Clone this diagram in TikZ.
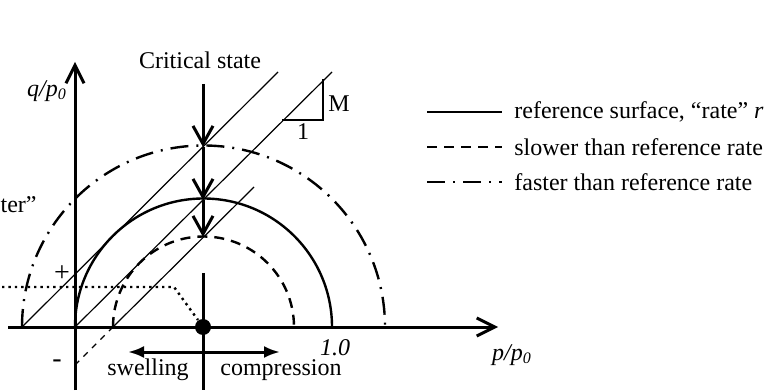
\documentclass[tikz,border=0pt]{standalone}
\usepackage{xcolor}
\usepackage{fontspec}
\setmainfont{Liberation Serif}
\usepackage{tikz}
\usetikzlibrary{arrows.meta}

\begin{document}
\begin{tikzpicture}[
  x=0.5pt, y=0.5pt,
  txt/.style={font=\fontsize{12}{14}\selectfont, inner sep=1pt},
  sign/.style={font=\fontsize{14}{16}\selectfont, inner sep=1pt},
  axis/.style={line width=1.5pt,
               -{Straight Barb[length=9pt, width=9pt, line width=1.5pt]}},
  csarrow/.style={line width=1.5pt,
                  -{Straight Barb[length=9pt, width=10pt, line width=1.5pt]}},
  dirarrow/.style={line width=1.5pt,
                   {Latex[length=8pt, width=6pt]}-{Latex[length=8pt, width=6pt]}},
  refline/.style={line width=1.2pt},
  slowline/.style={line width=1.2pt, dash pattern=on 5pt off 3.5pt},
  fastline/.style={line width=1.2pt, dash pattern=on 9pt off 4pt on 1pt off 4pt},
  csline/.style={line width=0.6pt},
  trace/.style={line width=1.2pt, dash pattern=on 1.2pt off 2pt}
]
\useasboundingbox (0,0) rectangle (779,390);

% axes
\coordinate (origin) at (75,63);
\coordinate (xstart) at (8,63);
\coordinate (xend)   at (498,63);
\coordinate (ystart) at (75,0);
\coordinate (yend)   at (75,328);
\draw[axis] (xstart) -- (xend);
\draw[axis] (ystart) -- (yend);

% yield surfaces
\draw[fastline] (22,63)  arc[start angle=180, end angle=0, radius=181.5];
\draw[refline]  (75,63)  arc[start angle=180, end angle=0, radius=128.5];
\draw[slowline] (113,63) arc[start angle=180, end angle=0, radius=90.5];

% critical state lines
\coordinate (cslA) at (22,63);   \coordinate (cslAend) at (278,318);
\coordinate (cslB) at (75,63);   \coordinate (cslBend) at (332,318);
\coordinate (cslC) at (113,63);  \coordinate (cslCend) at (254,203);
\coordinate (cslCneg) at (75,25);
\draw[csline] (cslA) -- (cslAend);
\draw[csline] (cslB) -- (cslBend);
\draw[csline] (cslC) -- (cslCend);
\draw[csline, dashed] (cslCneg) -- (cslC);

% slope triangle
\coordinate (triA) at (282,270);
\coordinate (triB) at (323,270);
\coordinate (triC) at (323,311);
\draw[line width=0.8pt] (triA) -- (triB) -- (triC);
\node[txt] (slopeM)   at (339,286) {M};
\node[txt] (slopeOne) at (303,258) {1};

% critical state arrows
\node[txt] (cstitle) at (200,330) {Critical state};
\coordinate (cstop) at (203,306);
\coordinate (csfast) at (203,243);
\coordinate (csref)  at (203,190);
\coordinate (csslow) at (203,153);
\draw[csarrow] (cstop)  -- (csfast);
\draw[csarrow] (csfast) -- (csref);
\draw[csarrow] (csref)  -- (csslow);

% current state and direction
\coordinate (state) at (203,63);
\coordinate (statetop) at (203,117);
\coordinate (statebot) at (203,0);
\draw[line width=1.5pt] (statetop) -- (statebot);
\fill (state) circle[radius=8];
\coordinate (swellend) at (128,38);
\coordinate (compend)  at (280,38);
\draw[dirarrow] (swellend) -- (compend);
\node[txt] (swelling)    at (148,20) {swelling};
\node[txt] (compression) at (281,20) {compression};

% stress path
\coordinate (pathA) at (2,103);
\coordinate (pathB) at (174,103);
\coordinate (pathC) at (198,70);
\draw[trace] (pathA) -- (pathB) -- (pathC);

% signs and labels
\node[sign] (plus)  at (62,116) {+};
\node[sign] (minus) at (57,26)  {-};
\node[txt, anchor=east] (cutlabel) at (39,185) {ter”};
\node[txt] (qlabel)   at (47,299)  {\itshape q/p\textsubscript{0}};
\node[txt] (plabel)   at (512,35)  {\itshape p/p\textsubscript{0}};
\node[txt] (onelabel) at (335,42)  {\itshape 1.0};

% legend
\coordinate (legA) at (427,278); \coordinate (legAend) at (502,278);
\coordinate (legB) at (427,243); \coordinate (legBend) at (502,243);
\coordinate (legC) at (427,208); \coordinate (legCend) at (502,208);
\draw[refline]  (legA) -- (legAend);
\draw[slowline] (legB) -- (legBend);
\draw[fastline] (legC) -- (legCend);
\node[txt, anchor=west] (legrefT)  at (512,278) {reference surface, “rate” \textit{r}};
\node[txt, anchor=west] (legslowT) at (512,243) {slower than reference rate};
\node[txt, anchor=west] (legfastT) at (512,208) {faster than reference rate};
\end{tikzpicture}
\end{document}
